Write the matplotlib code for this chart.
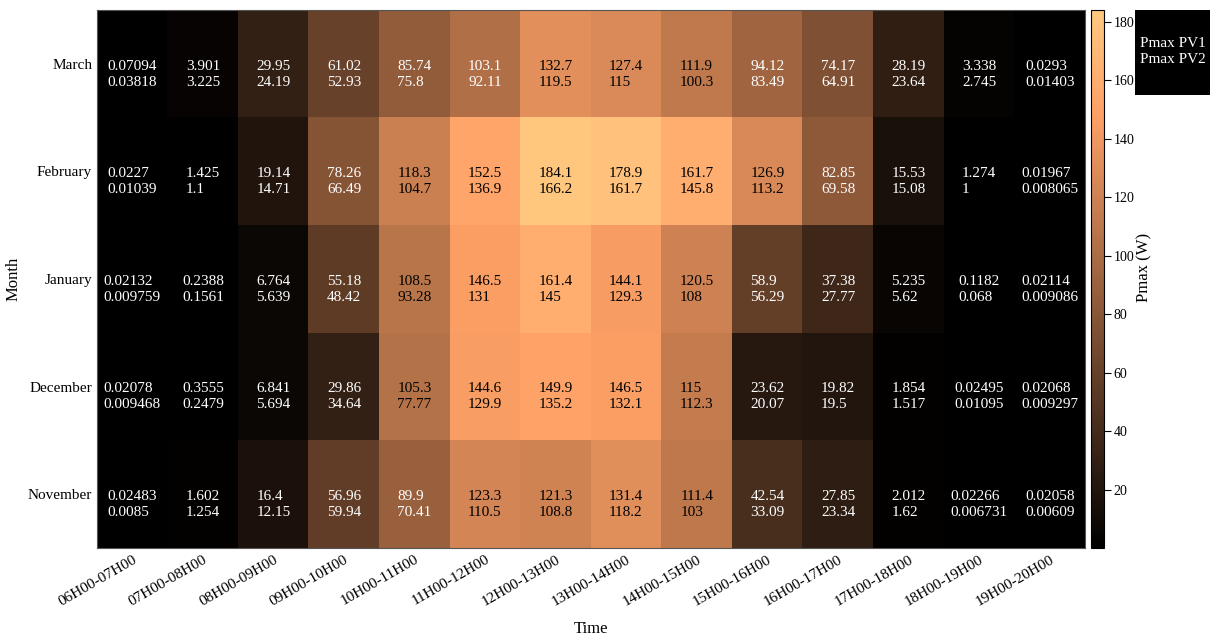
import matplotlib
matplotlib.use("Agg")
import matplotlib.pyplot as plt
import numpy as np

plt.rcParams['font.family'] = ['Liberation Serif', 'DejaVu Serif']

months = ["March", "February", "January", "December", "November"]
times = ["06H00-07H00", "07H00-08H00", "08H00-09H00", "09H00-10H00", "10H00-11H00",
         "11H00-12H00", "12H00-13H00", "13H00-14H00", "14H00-15H00", "15H00-16H00",
         "16H00-17H00", "17H00-18H00", "18H00-19H00", "19H00-20H00"]

pv1_march = [0.07094, 3.901, 29.95, 61.02, 85.74, 103.1, 132.7, 127.4, 111.9, 94.12, 74.17, 28.19, 3.338, 0.0293]
pv2_march = [0.03818, 3.225, 24.19, 52.93, 75.8, 92.11, 119.5, 115, 100.3, 83.49, 64.91, 23.64, 2.745, 0.01403]
pv1_february = [0.0227, 1.425, 19.14, 78.26, 118.3, 152.5, 184.1, 178.9, 161.7, 126.9, 82.85, 15.53, 1.274, 0.01967]
pv2_february = [0.01039, 1.1, 14.71, 66.49, 104.7, 136.9, 166.2, 161.7, 145.8, 113.2, 69.58, 15.08, 1, 0.008065]
pv1_january = [0.02132, 0.2388, 6.764, 55.18, 108.5, 146.5, 161.4, 144.1, 120.5, 58.9, 37.38, 5.235, 0.1182, 0.02114]
pv2_january = [0.009759, 0.1561, 5.639, 48.42, 93.28, 131, 145, 129.3, 108, 56.29, 27.77, 5.62, 0.068, 0.009086]
pv1_december = [0.02078, 0.3555, 6.841, 29.86, 105.3, 144.6, 149.9, 146.5, 115, 23.62, 19.82, 1.854, 0.02495, 0.02068]
pv2_december = [0.009468, 0.2479, 5.694, 34.64, 77.77, 129.9, 135.2, 132.1, 112.3, 20.07, 19.5, 1.517, 0.01095, 0.009297]
pv1_november = [0.02483, 1.602, 16.4, 56.96, 89.9, 123.3, 121.3, 131.4, 111.4, 42.54, 27.85, 2.012, 0.02266, 0.02058]
pv2_november = [0.0085, 1.254, 12.15, 59.94, 70.41, 110.5, 108.8, 118.2, 103, 33.09, 23.34, 1.62, 0.006731, 0.00609]

pv1 = np.array([pv1_march, pv1_february, pv1_january, pv1_december, pv1_november])
pv2 = np.array([pv2_march, pv2_february, pv2_january, pv2_december, pv2_november])

fig = plt.figure(figsize=(12.1, 6.37), dpi=100)
ax = fig.add_axes([97/1210, 1-548/637, (1085-97)/1210, (548-10)/637])
cax = fig.add_axes([1091/1210, 1-548/637, 13/1210, (548-10)/637])

vmin, vmax = pv1.min(), pv1.max()
im = ax.imshow(pv1, cmap='copper', aspect='auto', vmin=vmin, vmax=vmax, interpolation='nearest')

thr = 104
for i in range(pv1.shape[0]):
    for j in range(pv1.shape[1]):
        col = 'black' if pv1[i, j] > thr else 'white'
        ax.text(j, i + 0.095, format(pv1[i, j], '.4g') + "\n" + format(pv2[i, j], '.4g'),
                ha='center', va='center', multialignment='left', color=col,
                fontsize=11, linespacing=1.3)

ax.set_xticks(range(len(times)))
ax.set_xticklabels(times, rotation=30, ha='right', rotation_mode='anchor', fontsize=11)
ax.set_yticks(range(len(months)))
ax.set_yticklabels(months, fontsize=11)
ax.tick_params(length=0, pad=3.5)
ax.set_xlabel("Time", fontsize=12)
ax.set_ylabel("Month", fontsize=12)
ax.xaxis.set_label_coords(0.5, -0.135)
ax.yaxis.set_label_coords(-0.076, 0.5)
for s in ax.spines.values():
    s.set_color('#555555')
    s.set_linewidth(0.8)

cb = fig.colorbar(im, cax=cax)
cb.set_ticks([20, 40, 60, 80, 100, 120, 140, 160, 180])
cb.ax.tick_params(labelsize=10, length=5, direction='out', pad=2)
cb.outline.set_linewidth(0.8)
cb.set_label("Pmax (W)", fontsize=12)
cb.ax.yaxis.set_label_coords(3.5, 0.522)

fig.patches.append(plt.Rectangle((1135/1210, 1-95/637), 75/1210, 85/637,
                                 transform=fig.transFigure, facecolor='black', edgecolor='none'))
fig.text(1140/1210, 1-51.5/637, "Pmax PV1\nPmax PV2", color='white', fontsize=11,
         ha='left', va='center', linespacing=1.25)

fig.savefig("out.png", dpi=100)
